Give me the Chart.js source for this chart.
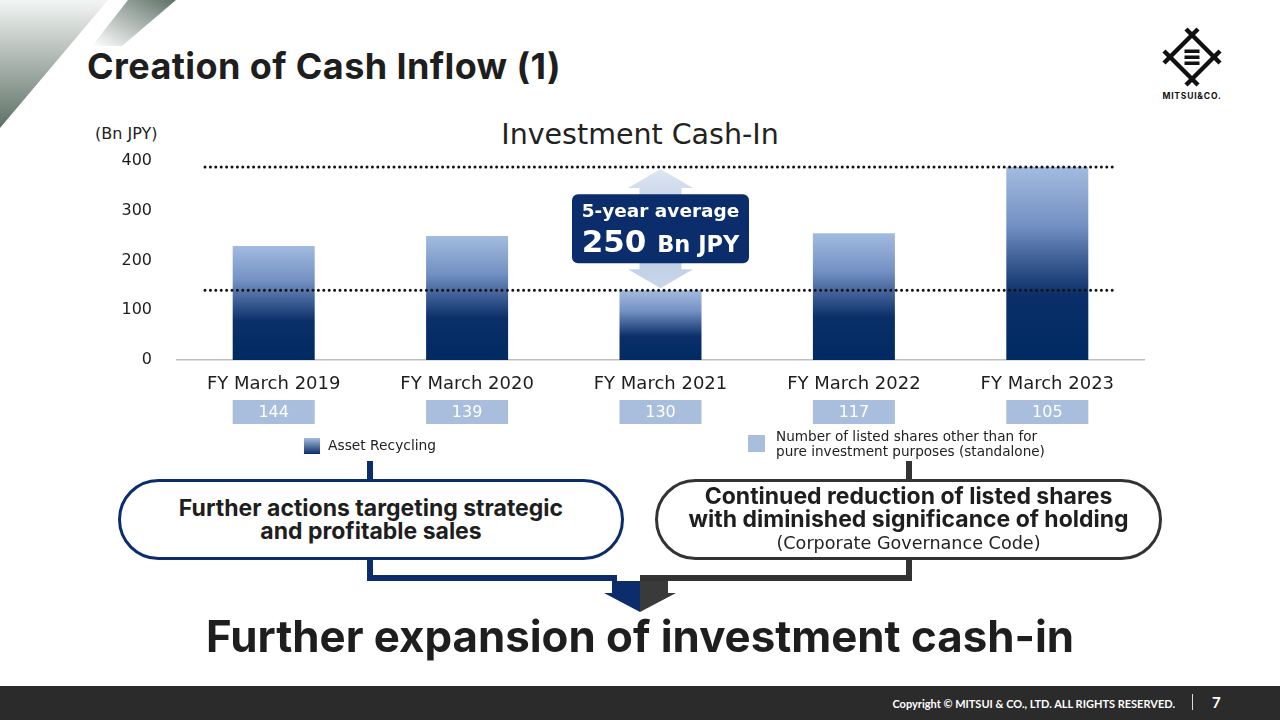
<!DOCTYPE html>
<html>
<head>
<meta charset="utf-8">
<script src="https://cdn.jsdelivr.net/npm/chart.js@4.4.0/dist/chart.umd.min.js"></script>
<style>
  html,body{margin:0;padding:0;background:#fff}
  body{width:1280px;height:720px;position:relative;overflow:hidden;font-family:'DejaVu Sans',sans-serif;color:#222}
  .abs{position:absolute}
  .title{left:87px;top:44px;font-family:Inter,sans-serif;font-weight:700;font-size:36px;letter-spacing:0.4px;color:#1e1e1e;white-space:nowrap}
  .pill{position:absolute;top:479px;height:81px;border-radius:42px;box-sizing:border-box;background:#fff;
        display:flex;flex-direction:column;align-items:center;justify-content:center;text-align:center}
  .pill b{font-family:Inter,sans-serif;font-weight:700;font-size:23px;line-height:23px;color:#1e1e1e}
  .footer{left:0;top:686px;width:1280px;height:34px;background:#2b2b2b}
</style>
</head>
<body>
<!-- corner decoration -->
<svg class="abs" style="left:0;top:0" width="200" height="150">
  <defs>
    <linearGradient id="gA" x1="0" y1="0" x2="0" y2="1">
      <stop offset="0" stop-color="#f3f5f4"/>
      <stop offset="1" stop-color="#5d7166"/>
    </linearGradient>
    <linearGradient id="gB" x1="1" y1="0" x2="0" y2="1">
      <stop offset="0" stop-color="#5d7166"/>
      <stop offset="1" stop-color="#ffffff"/>
    </linearGradient>
  </defs>
  <polygon points="0,0 108,0 0,128" fill="url(#gA)"/>
  <polygon points="128,0 176,0 122,46 92,46" fill="url(#gB)"/>
</svg>

<div class="abs title">Creation of Cash Inflow (1)</div>

<!-- logo -->
<svg class="abs" style="left:1156px;top:21px" width="74" height="86">
  <g stroke="#111" stroke-width="4.5">
    <line x1="8" y1="42" x2="42" y2="8"/>
    <line x1="30" y1="8" x2="64" y2="42"/>
    <line x1="64" y1="30" x2="30" y2="64"/>
    <line x1="42" y1="64" x2="8" y2="30"/>
  </g>
  <g fill="#111">
    <rect x="28.5" y="28.5" width="15" height="3.5"/>
    <rect x="28.5" y="34.5" width="15" height="3.5"/>
    <rect x="28.5" y="40.5" width="15" height="3.5"/>
  </g>
  <text x="36" y="78" text-anchor="middle" font-family="Inter,sans-serif" font-weight="700" font-size="8.5" letter-spacing="0.8" fill="#111">MITSUI&amp;CO.</text>
</svg>

<div class="abs" style="left:95px;top:124px;font-size:16px;color:#222">(Bn JPY)</div>
<div class="abs" style="left:390px;top:118px;width:500px;text-align:center;font-size:28.5px;color:#222">Investment Cash-In</div>

<canvas id="cashChart" class="abs" style="left:80px;top:120px"></canvas>

<!-- legend -->
<div class="abs" style="left:304px;top:438px;width:16px;height:16px;background:linear-gradient(#a4bbdd,#0b2d66)"></div>
<div class="abs" style="left:328px;top:437px;font-size:13.8px;color:#222">Asset Recycling</div>
<div class="abs" style="left:748px;top:435px;width:17px;height:17px;background:#a9bedc"></div>
<div class="abs" style="left:776px;top:429px;font-size:13.6px;line-height:15px;letter-spacing:0px;color:#222">Number of listed shares other than for<br>pure investment purposes (standalone)</div>

<!-- connectors -->
<svg class="abs" style="left:0;top:455px" width="1280" height="170">
  <rect x="367" y="6" width="6" height="20" fill="#0b2d6b"/>
  <rect x="367" y="103" width="6" height="23" fill="#0b2d6b"/>
  <rect x="367" y="120" width="250" height="6" fill="#0b2d6b"/>
  <rect x="906" y="6" width="6" height="20" fill="#333"/>
  <rect x="906" y="103" width="6" height="23" fill="#333"/>
  <rect x="640" y="120" width="272" height="6" fill="#333"/>
  <polygon points="612,126 640,126 640,157 604,138 612,138" fill="#0b2d6b"/>
  <polygon points="640,126 668,126 668,138 676,138 640,157" fill="#3a3a3a"/>
</svg>

<div class="pill" style="left:118px;width:506px;border:3px solid #0b2d6b">
  <b>Further actions targeting strategic<br>and profitable sales</b>
</div>
<div class="pill" style="left:655px;width:507px;border:3px solid #333">
  <b>Continued reduction of listed shares<br>with diminished significance of holding</b>
  <span style="font-size:17.6px;line-height:24px;color:#222">(Corporate Governance Code)</span>
</div>

<div class="abs" style="left:0;top:610px;width:1280px;text-align:center;font-family:Inter,sans-serif;font-weight:700;font-size:43.8px;color:#1e1e1e">Further expansion of investment cash-in</div>

<div class="abs footer"></div>
<div class="abs" style="left:700px;top:697px;width:475px;text-align:right;font-family:Lato,sans-serif;font-weight:700;font-size:11px;color:#fff">Copyright © MITSUI &amp; CO., LTD. ALL RIGHTS RESERVED.</div>
<div class="abs" style="left:1192px;top:694px;width:1px;height:16px;background:#ddd"></div>
<div class="abs" style="left:1212px;top:693px;font-family:Lato,sans-serif;font-weight:700;font-size:15px;color:#fff">7</div>

<script>
const years = ['FY March 2019', 'FY March 2020', 'FY March 2021', 'FY March 2022', 'FY March 2023'];
const assetRecycling = [229, 249, 140, 255, 388];
const listedShares = [144, 139, 130, 117, 105];
const yTicks = [0, 100, 200, 300, 400];
const averageLines = ['5-year average', '250', 'Bn JPY'];

const canvas = document.getElementById('cashChart');
canvas.width = 1100;
canvas.height = 340;

function barGradient(c){
  const chart = c.chart;
  if(!chart.chartArea || c.type !== 'data') return '#0a2d66';
  const y = chart.scales.y;
  const top = y.getPixelForValue(c.raw), bot = y.getPixelForValue(0);
  const g = chart.ctx.createLinearGradient(0, top, 0, bot);
  g.addColorStop(0, '#a3bbdf');
  g.addColorStop(0.3, '#7391c3');
  g.addColorStop(0.66, '#0b2f69');
  g.addColorStop(1, '#002a62');
  return g;
}

// dotted max/min lines, the average call-out and the share count boxes
const extrasPlugin = {
  id: 'extras',
  afterDatasetsDraw(chart){
    const {ctx, scales:{x, y}} = chart;
    const hi = Math.max(...assetRecycling), lo = Math.min(...assetRecycling);
    const yHi = y.getPixelForValue(hi), yLo = y.getPixelForValue(lo);
    ctx.save();
    ctx.strokeStyle = '#111'; ctx.lineWidth = 3; ctx.lineCap = 'round';
    ctx.setLineDash([0, 5.4]);
    [yHi, yLo].forEach(py=>{
      ctx.beginPath(); ctx.moveTo(x.left + 28, py); ctx.lineTo(x.right - 29, py); ctx.stroke();
    });
    ctx.setLineDash([]);

    // double arrow
    const cx = x.getPixelForValue(2);
    const t = yHi + 2, b = yLo - 2, hw = 21, hh = 32.5, headH = 19;
    const ag = ctx.createLinearGradient(0, t, 0, b);
    ag.addColorStop(0, '#dde5f1'); ag.addColorStop(0.5, '#b7c8e1'); ag.addColorStop(1, '#c9d6ea');
    ctx.fillStyle = ag;
    ctx.beginPath();
    ctx.moveTo(cx, t); ctx.lineTo(cx + hh, t + headH); ctx.lineTo(cx + hw, t + headH);
    ctx.lineTo(cx + hw, b - headH); ctx.lineTo(cx + hh, b - headH); ctx.lineTo(cx, b);
    ctx.lineTo(cx - hh, b - headH); ctx.lineTo(cx - hw, b - headH);
    ctx.lineTo(cx - hw, t + headH); ctx.lineTo(cx - hh, t + headH); ctx.closePath();
    ctx.fill();

    // average box
    const mid = (yHi + yLo) / 2, bw = 177, bh = 69;
    ctx.fillStyle = '#0b2d6b';
    ctx.beginPath(); ctx.roundRect(cx - bw/2, mid - bh/2, bw, bh, 6); ctx.fill();
    ctx.fillStyle = '#fff'; ctx.textAlign = 'center'; ctx.textBaseline = 'middle';
    ctx.font = 'bold 18.5px "DejaVu Sans"';
    ctx.fillText(averageLines[0], cx, mid - 16);
    ctx.textBaseline = 'alphabetic';
    ctx.font = 'bold 31px "DejaVu Sans"';
    const w1 = ctx.measureText(averageLines[1] + ' ').width;
    ctx.font = 'bold 22.5px "DejaVu Sans"';
    const w2 = ctx.measureText(averageLines[2]).width;
    const sx = cx - (w1 + w2) / 2;
    ctx.textAlign = 'left';
    ctx.font = 'bold 31px "DejaVu Sans"';
    ctx.fillText(averageLines[1], sx, mid + 23);
    ctx.font = 'bold 22.5px "DejaVu Sans"';
    ctx.fillText(averageLines[2], sx + w1, mid + 23);

    // listed share count boxes
    const meta = chart.getDatasetMeta(0);
    ctx.textAlign = 'center'; ctx.textBaseline = 'middle';
    ctx.font = '16px "DejaVu Sans"';
    listedShares.forEach((v, i)=>{
      const px = x.getPixelForValue(i), w = meta.data[i].width;
      const top = y.bottom + 40;
      ctx.fillStyle = '#a9bedc';
      ctx.fillRect(px - w/2, top, w, 24);
      ctx.fillStyle = '#fff';
      ctx.fillText(String(v), px, top + 12.5);
    });
    ctx.restore();
  }
};

new Chart(canvas, {
  type: 'bar',
  data: {
    labels: years,
    datasets: [{
      label: 'Asset Recycling',
      data: assetRecycling,
      backgroundColor: barGradient,
      barPercentage: 0.424,
      categoryPercentage: 1
    }]
  },
  options: {
    responsive: false,
    animation: false,
    events: [],
    layout: {padding: {left: 0, right: 36, top: 41, bottom: 0}},
    plugins: {legend: {display: false}, tooltip: {enabled: false}},
    scales: {
      x: {
        grid: {display: false, drawTicks: false},
        border: {display: true, color: '#bfbfbf', width: 1.5},
        ticks: {color: '#1e1e1e', font: {family: 'DejaVu Sans', size: 18}, padding: 14, maxRotation: 0},
        afterFit(s){ s.height = 100; }
      },
      y: {
        min: 0, max: 400,
        afterBuildTicks(s){ s.ticks = yTicks.map(v=>({value: v})); },
        grid: {display: false, drawTicks: false},
        border: {display: false},
        ticks: {color: '#1e1e1e', font: {family: 'DejaVu Sans', size: 16}, padding: 25},
        afterFit(s){ s.width = 97; }
      }
    }
  },
  plugins: [extrasPlugin]
});
</script>
</body>
</html>
